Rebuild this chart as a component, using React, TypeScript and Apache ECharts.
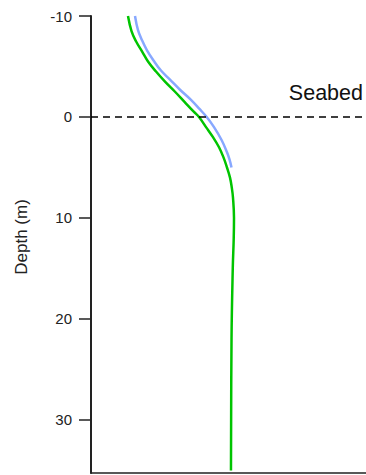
import React, { useEffect, useRef } from "react";
import * as echarts from "echarts";

// Depth (m) and horizontal value (arbitrary units, axis unlabeled)
const greenDepth = [-10, -8.5, -7.5, -6.5, -5.5, -4.5, -3.5, -2.5, -1.5, -0.5, 0, 1, 2, 3, 4, 5, 6, 7, 8, 10, 12, 15, 22, 35];
const greenValue = [13.45, 14.73, 16.36, 18.55, 20.73, 23.64, 26.91, 30.55, 34.0, 37.45, 39.27, 41.82, 44.36, 46.55, 48.18, 49.45, 50.55, 51.2, 51.64, 52.0, 51.9, 51.55, 51.1, 50.9];

const blueDepth = [-10, -8.6, -7.6, -6.6, -5.6, -4.6, -3.7, -2.7, -1.7, -0.8, 0, 1, 2.3, 3.5, 4.2, 5];
const blueValue = [16.0, 17.09, 18.55, 20.36, 22.73, 25.45, 28.73, 32.36, 36.36, 39.45, 42.07, 44.73, 47.53, 49.45, 50.36, 51.09];

const yTicks = [-10, 0, 10, 20, 30];
const seabedDepth = 0;
const seabedLabel = "Seabed";

const FONT = "'Liberation Sans', Arial, Helvetica, sans-serif";

export default function App() {
  const ref = useRef<HTMLDivElement>(null);
  useEffect(() => {
    document.body.style.margin = "0";
    if (!ref.current) return;
    const chart = echarts.init(ref.current, null, { renderer: "svg" });
    const green = greenDepth.map((d, i) => [greenValue[i], d]);
    const blue = blueDepth.map((d, i) => [blueValue[i], d]);
    chart.setOption({
      animation: false,
      backgroundColor: "#ffffff",
      grid: { left: 91, right: 0, top: 16, bottom: 2, containLabel: false },
      xAxis: {
        type: "value",
        position: "bottom",
        min: 0,
        max: 100,
        axisLine: { show: true, onZero: false, lineStyle: { color: "#222", width: 1.5 } },
        axisTick: { show: false },
        axisLabel: { show: false },
        splitLine: { show: false },
      },
      yAxis: {
        type: "value",
        inverse: true,
        min: yTicks[0],
        max: 35.25,
        interval: 10,
        axisLine: { show: true, onZero: false, lineStyle: { color: "#222", width: 2 } },
        axisTick: { show: true, inside: false, length: 12, lineStyle: { color: "#222", width: 1.5 } },
        axisLabel: {
          margin: 19,
          color: "#222",
          fontSize: 15,
          fontFamily: FONT,
          showMaxLabel: false,
        },
        splitLine: { show: false },
      },
      graphic: [
        {
          type: "text",
          x: 21,
          y: 237,
          rotation: Math.PI / 2,
          style: {
            text: "Depth (m)",
            fontSize: 17,
            fontFamily: FONT,
            fill: "#222",
            textAlign: "center",
            textVerticalAlign: "middle",
          },
        },
        {
          type: "text",
          x: 363,
          y: 93,
          style: {
            text: seabedLabel,
            fontSize: 21.5,
            fontFamily: FONT,
            fill: "#111",
            textAlign: "right",
            textVerticalAlign: "middle",
          },
        },
      ],
      series: [
        {
          type: "line",
          data: blue,
          showSymbol: false,
          smooth: 0.4,
          lineStyle: { color: "#88a8ff", width: 2.5 },
          z: 2,
        },
        {
          type: "line",
          data: green,
          showSymbol: false,
          smooth: 0.4,
          lineStyle: { color: "#00c400", width: 2.5 },
          z: 3,
          markLine: {
            silent: true,
            symbol: ["none", "none"],
            lineStyle: { color: "#000", width: 1.5, type: [7, 5] },
            label: { show: false },
            data: [{ yAxis: seabedDepth }],
          },
        },
      ],
    });
    return () => chart.dispose();
  }, []);
  return <div ref={ref} style={{ width: 366, height: 475 }} />;
}
